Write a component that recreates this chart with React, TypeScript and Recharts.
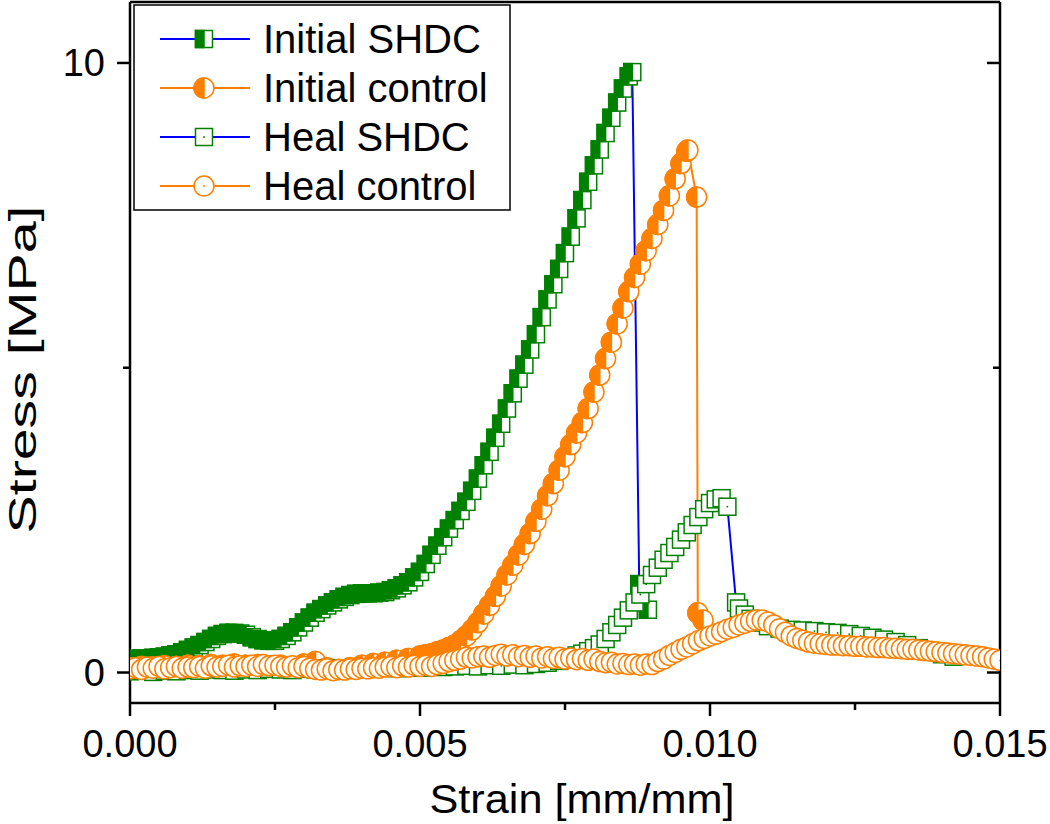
import React from 'react';
import { LineChart, Line, XAxis, YAxis, Legend } from 'recharts';

const FONT = '"Liberation Sans", Arial, sans-serif';
const GREEN = '#008000';
const ORANGE = '#FF8000';
const BLUE = '#0000FF';

const seriesNames = ['Initial SHDC', 'Initial control', 'Heal SHDC', 'Heal control'];
const xTicks = [0, 0.0025, 0.005, 0.0075, 0.01, 0.0125, 0.015];
const xTickLabels = ['0.000', '', '0.005', '', '0.010', '', '0.015'];
const yTicks = [0, 5, 10];
const yTickLabels = ['0', '', '10'];
const xTitle = 'Strain [mm/mm]';
const yTitle = 'Stress [MPa]';

// [strain, stress]
const initialShdc: [number, number][] = [
  [0, 0.22], [0.0001, 0.22], [0.0002, 0.23], [0.0003, 0.23], [0.0004, 0.24], [0.0005, 0.25],
  [0.0006, 0.26], [0.0007, 0.28], [0.0008, 0.3], [0.0009, 0.33], [0.001, 0.37], [0.0011, 0.41],
  [0.0012, 0.45], [0.0013, 0.5], [0.0014, 0.55], [0.0015, 0.6], [0.0016, 0.63], [0.0017, 0.65],
  [0.0018, 0.65], [0.0019, 0.64], [0.002, 0.62], [0.0021, 0.58], [0.0022, 0.55], [0.0023, 0.53],
  [0.0024, 0.52], [0.0025, 0.52], [0.0026, 0.55], [0.0027, 0.6], [0.0028, 0.66], [0.0029, 0.74],
  [0.003, 0.82], [0.0031, 0.9], [0.0032, 0.98], [0.0033, 1.04], [0.0034, 1.1], [0.0035, 1.15],
  [0.0036, 1.2], [0.0037, 1.24], [0.0038, 1.27], [0.0039, 1.29], [0.004, 1.3], [0.0041, 1.3],
  [0.0042, 1.3], [0.0043, 1.31], [0.0044, 1.32], [0.0045, 1.35], [0.0046, 1.38], [0.0047, 1.43],
  [0.0048, 1.48], [0.0049, 1.56], [0.005, 1.65], [0.0051, 1.78], [0.0052, 1.93], [0.0053, 2.08],
  [0.0054, 2.22], [0.0055, 2.36], [0.0056, 2.5], [0.0057, 2.65], [0.0058, 2.8], [0.0059, 2.98],
  [0.006, 3.18], [0.0061, 3.4], [0.0062, 3.62], [0.0063, 3.85], [0.0064, 4.08], [0.0065, 4.33],
  [0.0066, 4.58], [0.0067, 4.82], [0.0068, 5.05], [0.0069, 5.3], [0.007, 5.55], [0.0071, 5.83],
  [0.0072, 6.12], [0.0073, 6.37], [0.0074, 6.62], [0.0075, 6.88], [0.0076, 7.15], [0.0077, 7.45],
  [0.0078, 7.75], [0.0079, 8.05], [0.008, 8.32], [0.0081, 8.58], [0.0082, 8.85], [0.0083, 9.1],
  [0.0084, 9.35], [0.0085, 9.58], [0.0086, 9.78], [0.00866, 9.85], [0.00878, 1.45], [0.00893, 1.03],
];

const initialControl: [number, number][] = [
  [0, 0.08], [0.0002, 0.1], [0.0004, 0.09], [0.0006, 0.11], [0.0008, 0.1], [0.001, 0.12],
  [0.0012, 0.11], [0.0014, 0.13], [0.0016, 0.12], [0.0018, 0.14], [0.002, 0.12], [0.0022, 0.13],
  [0.0024, 0.11], [0.0026, 0.12], [0.0028, 0.1], [0.003, 0.14], [0.0032, 0.18], [0.0034, 0.08],
  [0.0036, 0.05], [0.0038, 0.08], [0.004, 0.12], [0.0042, 0.15], [0.0044, 0.17], [0.0046, 0.2],
  [0.0048, 0.23], [0.005, 0.27], [0.0051, 0.29], [0.0052, 0.31], [0.0053, 0.34], [0.0054, 0.37],
  [0.0055, 0.41], [0.0056, 0.45], [0.0057, 0.52], [0.0058, 0.6], [0.0059, 0.7], [0.006, 0.82],
  [0.0061, 0.96], [0.0062, 1.1], [0.0063, 1.25], [0.0064, 1.42], [0.0065, 1.6], [0.0066, 1.76],
  [0.0067, 1.93], [0.0068, 2.1], [0.0069, 2.28], [0.007, 2.48], [0.0071, 2.68], [0.0072, 2.9],
  [0.0073, 3.1], [0.0074, 3.32], [0.0075, 3.54], [0.0076, 3.74], [0.0077, 3.93], [0.0078, 4.1],
  [0.0079, 4.33], [0.008, 4.6], [0.0081, 4.88], [0.0082, 5.15], [0.0083, 5.42], [0.0084, 5.72],
  [0.0085, 5.98], [0.0086, 6.25], [0.0087, 6.48], [0.0088, 6.7], [0.0089, 6.92], [0.009, 7.12],
  [0.0091, 7.35], [0.0092, 7.58], [0.0093, 7.82], [0.0094, 8.1], [0.0095, 8.35], [0.0096, 8.55],
  [0.00962, 8.57], [0.00977, 7.8], [0.00979, 0.98], [0.00988, 0.86],
];

const healShdc: [number, number][] = [
  [0, 0.02], [0.0002, 0.03], [0.0004, 0.01], [0.0006, 0.03], [0.0008, 0.02], [0.001, 0.04],
  [0.0012, 0.03], [0.0014, 0.05], [0.0016, 0.04], [0.0018, 0.03], [0.002, 0.05], [0.0022, 0.04],
  [0.0024, 0.06], [0.0026, 0.05], [0.0028, 0.04], [0.003, 0.06], [0.0032, 0.05], [0.0034, 0.07],
  [0.0036, 0.06], [0.0038, 0.05], [0.004, 0.07], [0.0042, 0.06], [0.0044, 0.08], [0.0046, 0.07],
  [0.0048, 0.09], [0.005, 0.08], [0.0052, 0.1], [0.0054, 0.09], [0.0056, 0.1], [0.0058, 0.11],
  [0.006, 0.1], [0.0062, 0.12], [0.0064, 0.11], [0.0066, 0.13], [0.0068, 0.12], [0.007, 0.14],
  [0.0072, 0.16], [0.0074, 0.19], [0.0075, 0.22], [0.0076, 0.25], [0.0077, 0.28], [0.0078, 0.31],
  [0.0079, 0.35], [0.008, 0.4], [0.0081, 0.46], [0.0082, 0.55], [0.0083, 0.66], [0.0084, 0.78],
  [0.0085, 0.9], [0.0086, 1.02], [0.0087, 1.15], [0.0088, 1.28], [0.0089, 1.45], [0.009, 1.6],
  [0.0091, 1.72], [0.0092, 1.85], [0.0093, 1.96], [0.0094, 2.06], [0.0095, 2.18], [0.0096, 2.3],
  [0.0097, 2.42], [0.0098, 2.55], [0.0099, 2.68], [0.01, 2.78], [0.0101, 2.84], [0.0102, 2.86],
  [0.0103, 2.72], [0.01045, 1.15], [0.0105, 1.05], [0.0106, 0.95], [0.0107, 0.88], [0.0108, 0.82],
  [0.011, 0.76], [0.0112, 0.72], [0.0114, 0.7], [0.0116, 0.69], [0.0118, 0.68], [0.012, 0.66],
  [0.0122, 0.65], [0.0124, 0.63], [0.0126, 0.6], [0.0128, 0.57], [0.013, 0.54], [0.0132, 0.5],
  [0.0134, 0.45], [0.0136, 0.4], [0.0138, 0.35], [0.014, 0.3], [0.0142, 0.26],
];

const healControl: [number, number][] = [
  [0, 0.06], [0.0001, 0.08], [0.0002, 0.05], [0.0003, 0.09], [0.0004, 0.07], [0.0005, 0.1],
  [0.0006, 0.06], [0.0007, 0.08], [0.0008, 0.1], [0.0009, 0.07], [0.001, 0.09], [0.0011, 0.08],
  [0.0012, 0.1], [0.0013, 0.07], [0.0014, 0.11], [0.0015, 0.09], [0.0016, 0.1], [0.0017, 0.12],
  [0.0018, 0.09], [0.0019, 0.11], [0.002, 0.1], [0.0021, 0.12], [0.0022, 0.1], [0.0023, 0.13],
  [0.0024, 0.11], [0.0025, 0.12], [0.0026, 0.1], [0.0027, 0.09], [0.0028, 0.11], [0.0029, 0.08],
  [0.003, 0.1], [0.0031, 0.07], [0.0032, 0.05], [0.0033, 0.04], [0.0034, 0.06], [0.0035, 0.03],
  [0.0036, 0.05], [0.0037, 0.04], [0.0038, 0.06], [0.0039, 0.05], [0.004, 0.07], [0.0041, 0.06],
  [0.0042, 0.08], [0.0043, 0.07], [0.0044, 0.09], [0.0045, 0.1], [0.0046, 0.08], [0.0047, 0.11],
  [0.0048, 0.09], [0.0049, 0.12], [0.005, 0.1], [0.0051, 0.12], [0.0052, 0.1], [0.0053, 0.13],
  [0.0054, 0.15], [0.0055, 0.18], [0.0056, 0.2], [0.0057, 0.22], [0.0058, 0.25], [0.0059, 0.24],
  [0.006, 0.26], [0.0061, 0.27], [0.0062, 0.25], [0.0063, 0.28], [0.0064, 0.3], [0.0065, 0.27],
  [0.0066, 0.29], [0.0067, 0.26], [0.0068, 0.28], [0.0069, 0.25], [0.007, 0.27], [0.0071, 0.24],
  [0.0072, 0.26], [0.0073, 0.23], [0.0074, 0.25], [0.0075, 0.22], [0.0076, 0.24], [0.0077, 0.21],
  [0.0078, 0.23], [0.0079, 0.2], [0.008, 0.22], [0.0081, 0.18], [0.0082, 0.16], [0.0083, 0.17],
  [0.0084, 0.14], [0.0085, 0.15], [0.0086, 0.13], [0.0087, 0.14], [0.0088, 0.12], [0.0089, 0.14],
  [0.009, 0.13], [0.0091, 0.18], [0.0092, 0.22], [0.0093, 0.28], [0.0094, 0.33], [0.0095, 0.38],
  [0.0096, 0.42], [0.0097, 0.47], [0.0098, 0.52], [0.0099, 0.56], [0.01, 0.6], [0.0101, 0.63],
  [0.0102, 0.67], [0.0103, 0.71], [0.0104, 0.74], [0.0105, 0.78], [0.0106, 0.81], [0.0107, 0.84],
  [0.0108, 0.86], [0.0109, 0.86], [0.011, 0.83], [0.0111, 0.78], [0.0112, 0.72], [0.0113, 0.66],
  [0.0114, 0.6], [0.0115, 0.56], [0.0116, 0.53], [0.0117, 0.5], [0.0118, 0.48], [0.0119, 0.47],
  [0.012, 0.46], [0.0121, 0.45], [0.0122, 0.45], [0.0123, 0.44], [0.0124, 0.44], [0.0125, 0.43],
  [0.0126, 0.43], [0.0127, 0.42], [0.0128, 0.42], [0.0129, 0.41], [0.013, 0.41], [0.0131, 0.4],
  [0.0132, 0.4], [0.0133, 0.39], [0.0134, 0.38], [0.0135, 0.38], [0.0136, 0.37], [0.0137, 0.36],
  [0.0138, 0.35], [0.0139, 0.34], [0.014, 0.33], [0.0141, 0.32], [0.0142, 0.31], [0.0143, 0.3],
  [0.0144, 0.29], [0.0145, 0.28], [0.0146, 0.27], [0.0147, 0.26], [0.0148, 0.24], [0.0149, 0.22],
  [0.015, 0.2],
];

const toRows = (arr: [number, number][]) => arr.map(([x, y]) => ({ x, y }));

const SQ = 8.5;
const CR = 10;

function HalfSquare({ cx, cy }: { cx: number; cy: number }) {
  return (
    <g>
      <rect x={cx - SQ} y={cy - SQ} width={2 * SQ} height={2 * SQ} fill="#fff" stroke={GREEN} strokeWidth={1.5} />
      <rect x={cx - SQ} y={cy - SQ} width={SQ} height={2 * SQ} fill={GREEN} stroke={GREEN} strokeWidth={1.5} />
    </g>
  );
}
function HalfCircle({ cx, cy }: { cx: number; cy: number }) {
  return (
    <g>
      <circle cx={cx} cy={cy} r={CR} fill="#fff" stroke={ORANGE} strokeWidth={1.5} />
      <path d={`M${cx},${cy - CR} A${CR},${CR} 0 0 0 ${cx},${cy + CR} Z`} fill={ORANGE} stroke={ORANGE} strokeWidth={1.5} />
    </g>
  );
}
function OpenSquare({ cx, cy }: { cx: number; cy: number }) {
  return (
    <g>
      <rect x={cx - SQ} y={cy - SQ} width={2 * SQ} height={2 * SQ} fill="#fff" stroke={GREEN} strokeWidth={1.5} />
      <circle cx={cx} cy={cy} r={0.9} fill={GREEN} />
    </g>
  );
}
function OpenCircle({ cx, cy }: { cx: number; cy: number }) {
  return (
    <g>
      <circle cx={cx} cy={cy} r={CR} fill="#fff" stroke={ORANGE} strokeWidth={1.5} />
      <circle cx={cx} cy={cy} r={0.9} fill={ORANGE} />
    </g>
  );
}

const markers = [HalfSquare, HalfCircle, OpenSquare, OpenCircle];
const lineColors = [BLUE, ORANGE, BLUE, ORANGE];
const seriesData = [initialShdc, initialControl, healShdc, healControl];

const makeDot = (Comp: any, tag: string) => (p: any) => {
  if (p.cx == null || p.cy == null) return <g key={`${tag}-${p.index}`} />;
  return <Comp key={`${tag}-${p.index}`} cx={p.cx} cy={p.cy} />;
};

const TICK_W = 2.5;

function BottomTick(p: any) {
  const { x, y, payload } = p;
  const i = xTicks.indexOf(payload.value);
  const major = i % 2 === 0;
  return (
    <g>
      <line x1={x} x2={x} y1={y} y2={y + (major ? 13 : 7)} stroke="#000" strokeWidth={TICK_W} />
      {major && (
        <text x={x} y={y + 54} textAnchor="middle" fontSize={38} fontFamily={FONT} fill="#000">
          {xTickLabels[i]}
        </text>
      )}
    </g>
  );
}
function TopTick(p: any) {
  const { x, y, payload } = p;
  const i = xTicks.indexOf(payload.value);
  const major = i % 2 === 0;
  return <line x1={x} x2={x} y1={y} y2={y + (major ? 13 : 7)} stroke="#000" strokeWidth={TICK_W} />;
}
function LeftTick(p: any) {
  const { x, y, payload } = p;
  const i = yTicks.indexOf(payload.value);
  const major = i % 2 === 0;
  return (
    <g>
      <line x1={x - (major ? 13 : 7)} x2={x} y1={y} y2={y} stroke="#000" strokeWidth={TICK_W} />
      {major && (
        <text x={x - 25} y={y + 13.5} textAnchor="end" fontSize={38} fontFamily={FONT} fill="#000">
          {yTickLabels[i]}
        </text>
      )}
    </g>
  );
}
function RightTick(p: any) {
  const { x, y, payload } = p;
  const i = yTicks.indexOf(payload.value);
  const major = i % 2 === 0;
  return <line x1={x - (major ? 13 : 7)} x2={x} y1={y} y2={y} stroke="#000" strokeWidth={TICK_W} />;
}

function LegendBox() {
  return (
    <svg width={380} height={210} style={{ display: 'block' }}>
      <rect x={1} y={1} width={376} height={205} fill="#fff" stroke="#000" strokeWidth={1.5} />
      {seriesNames.map((name, i) => {
        const cy = 35 + i * 49;
        const M = markers[i];
        return (
          <g key={name}>
            <line x1={27} x2={117} y1={cy} y2={cy} stroke={lineColors[i]} strokeWidth={2} />
            <M cx={71} cy={cy} />
            <text x={130} y={cy + 14} fontSize={40} fontFamily={FONT} fill="#000">
              {name}
            </text>
          </g>
        );
      })}
    </svg>
  );
}

const axisLineStyle = { stroke: '#000', strokeWidth: 2.5 };

export default function App() {
  return (
    <div style={{ position: 'absolute', left: 0, top: 0, background: '#fff' }}>
      <LineChart width={1050} height={824} margin={{ top: 0, right: 0, bottom: 0, left: 0 }}>
        <XAxis
          xAxisId="b"
          dataKey="x"
          type="number"
          domain={[0, 0.015]}
          allowDataOverflow
          ticks={xTicks}
          interval={0}
          tickSize={0}
          tickMargin={0}
          tick={(p: any) => <BottomTick {...p} />}
          height={121}
          axisLine={axisLineStyle}
          label={{
            content: (props: any) => {
              const vb = props.viewBox;
              return (
                <text
                  x={vb.x + vb.width / 2 + 17}
                  y={vb.y + 110}
                  textAnchor="middle"
                  fontSize={40}
                  fontFamily={FONT}
                  fill="#000"
                  textLength={305}
                  lengthAdjust="spacingAndGlyphs"
                >
                  {xTitle}
                </text>
              );
            },
          }}
        />
        <XAxis
          xAxisId="t"
          orientation="top"
          type="number"
          domain={[0, 0.015]}
          allowDataOverflow
          ticks={xTicks}
          interval={0}
          tickSize={0}
          tickMargin={0}
          tick={(p: any) => <TopTick {...p} />}
          height={2}
          axisLine={axisLineStyle}
        />
        <YAxis
          yAxisId="l"
          type="number"
          domain={[-0.5, 11]}
          allowDataOverflow
          ticks={yTicks}
          interval={0}
          tickSize={0}
          tickMargin={0}
          tick={(p: any) => <LeftTick {...p} />}
          width={130}
          axisLine={axisLineStyle}
          label={{
            content: (props: any) => {
              const vb = props.viewBox;
              const cy = vb.y + vb.height / 2 + 17;
              return (
                <text
                  x={36}
                  y={cy}
                  transform={`rotate(-90 36 ${cy})`}
                  textAnchor="middle"
                  fontSize={38}
                  fontFamily={FONT}
                  fill="#000"
                  textLength={328}
                  lengthAdjust="spacingAndGlyphs"
                >
                  {yTitle}
                </text>
              );
            },
          }}
        />
        <YAxis
          yAxisId="r"
          orientation="right"
          type="number"
          domain={[-0.5, 11]}
          allowDataOverflow
          ticks={yTicks}
          interval={0}
          tickSize={0}
          tickMargin={0}
          tick={(p: any) => <RightTick {...p} />}
          width={50}
          axisLine={axisLineStyle}
        />
        {seriesData.map((arr, i) => (
          <Line
            key={seriesNames[i]}
            name={seriesNames[i]}
            data={toRows(arr)}
            dataKey="y"
            xAxisId="b"
            yAxisId="l"
            type="linear"
            stroke={lineColors[i]}
            strokeWidth={2}
            dot={makeDot(markers[i], `s${i}`)}
            activeDot={false}
            isAnimationActive={false}
          />
        ))}
        <Legend
          layout="vertical"
          align="center"
          verticalAlign="middle"
          content={() => <LegendBox />}
          wrapperStyle={{ position: 'absolute', left: 133, top: 4, width: 380, height: 210 }}
        />
      </LineChart>
    </div>
  );
}
